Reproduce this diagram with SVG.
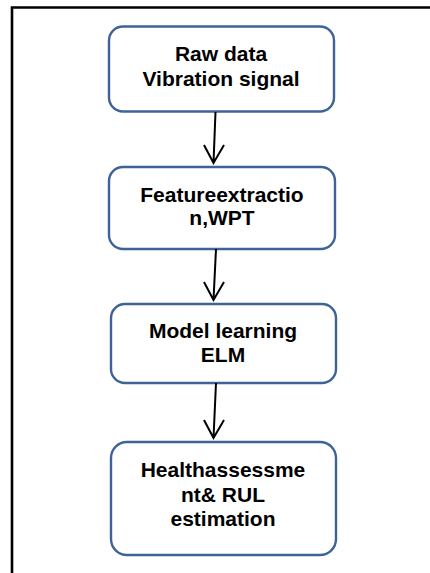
<svg xmlns="http://www.w3.org/2000/svg" width="430" height="573" viewBox="0 0 430 573">
<style>
.box{fill:#fff;stroke:#3f6399;stroke-width:2.4}
.t{font-family:"Liberation Sans",Arial,sans-serif;font-weight:bold;font-size:21px;fill:#000;text-anchor:middle}
.c{fill:none;stroke:#000;stroke-width:2}
</style>
<rect width="430" height="573" fill="#fff"/>
<path d="M12 573 V7.5 H430" fill="none" stroke="#000" stroke-width="2.6"/>
<g id="n1">
<rect class="box" x="109" y="26.5" width="225" height="85" rx="14"/>
<text class="t" x="221" y="61">Raw data</text>
<text class="t" x="221" y="86">Vibration signal</text>
</g>
<g id="n2">
<rect class="box" x="109" y="167" width="226" height="82" rx="14"/>
<text class="t" x="222" y="201.5">Featureextractio</text>
<text class="t" x="222" y="225">n,WPT</text>
</g>
<g id="n3">
<rect class="box" x="111" y="304" width="225" height="79" rx="14"/>
<text class="t" x="223" y="338">Model learning</text>
<text class="t" x="223" y="362">ELM</text>
</g>
<g id="n4">
<rect class="box" x="111" y="442" width="225" height="113" rx="16"/>
<text class="t" x="223" y="477">Healthassessme</text>
<text class="t" x="223" y="501.5">nt&amp; RUL</text>
<text class="t" x="223" y="526">estimation</text>
</g>
<g id="connectors">
<path class="c" d="M215.5 112 L213.5 163 M204 145 L213.5 163 L224 145"/>
<path class="c" d="M216 249 L213.5 300 M204 282 L213.5 300 L224 282"/>
<path class="c" d="M216 383 L213.5 438 M204 420 L213.5 438 L224 420"/>
</g>
</svg>
